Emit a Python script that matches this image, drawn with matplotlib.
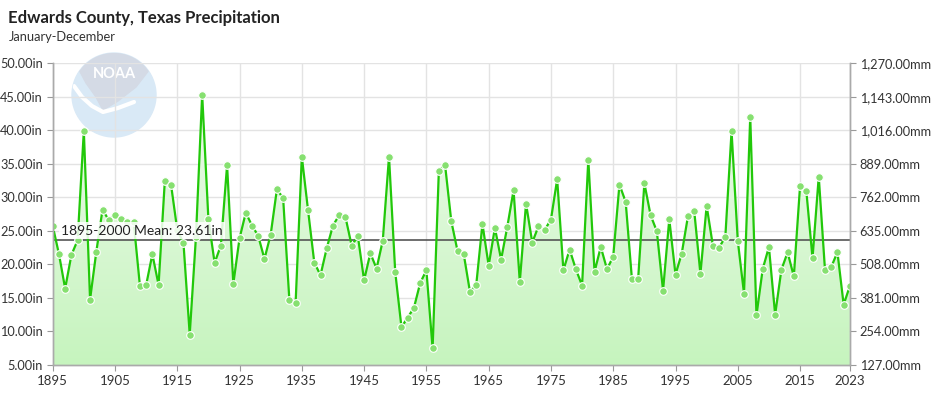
import numpy as np
import matplotlib.pyplot as plt
from matplotlib.patches import Circle, Polygon
from matplotlib.colors import LinearSegmentedColormap

# annual precipitation, inches
years = list(range(1895, 2024))
precip = [
    25.75, 21.57, 16.40, 21.40, 23.60, 39.90, 14.76, 21.87, 28.18, 26.60,
    27.40, 26.80, 26.34, 26.34, 16.85, 16.90, 21.52, 16.95, 32.41, 31.90,
    25.15, 23.16, 9.54, 24.10, 45.33, 26.74, 20.23, 22.81, 34.79, 17.10,
    23.90, 27.70, 25.80, 24.25, 20.82, 24.45, 31.21, 29.87, 14.71, 14.17,
    36.08, 28.08, 20.28, 18.39, 22.42, 25.80, 27.34, 27.09, 22.81, 24.20,
    17.64, 21.67, 19.38, 23.56, 36.08, 18.84, 10.64, 12.08, 13.52, 17.20,
    19.14, 7.46, 33.95, 34.84, 26.44, 22.02, 21.52, 15.90, 16.90, 26.04,
    19.83, 25.45, 20.73, 25.65, 31.06, 17.40, 29.08, 23.26, 25.70, 25.15,
    26.69, 32.70, 19.14, 22.22, 19.28, 16.85, 35.64, 18.89, 22.61, 19.28,
    21.17, 31.91, 29.32, 17.84, 17.80, 32.11, 27.34, 24.95, 16.10, 26.74,
    18.49, 21.62, 27.19, 28.03, 18.59, 28.73, 22.81, 22.51, 24.10, 39.86,
    23.51, 15.66, 42.00, 12.40, 19.30, 22.60, 12.50, 19.20, 21.80, 18.20,
    31.70, 31.00, 20.94, 33.10, 19.20, 19.60, 21.83, 14.00, 16.80,
]
mean_val = 23.61
mean_label = "1895-2000 Mean: 23.61in"
xticks = [1895, 1905, 1915, 1925, 1935, 1945, 1955, 1965, 1975, 1985, 1995, 2005, 2015, 2023]
yticks = [5, 10, 15, 20, 25, 30, 35, 40, 45, 50]

plt.rcParams['font.family'] = ['Lato', 'DejaVu Sans']

W, H = 936, 398
fig = plt.figure(figsize=(W / 100, H / 100), dpi=100)

# NOAA watermark, drawn in pixel units around its centre
cx, cy, r = 114, 95, 42
logo_ax = fig.add_axes([(cx - 45) / W, 1 - (cy + 45) / H, 90 / W, 90 / H])
logo_ax.set_xlim(-45, 45)
logo_ax.set_ylim(-45, 45)
logo_ax.axis('off')
disc = Circle((0, 0), r, color='#d9e9f6', zorder=1)
logo_ax.add_patch(disc)
ang = np.radians(np.linspace(35, 145, 40))
arc = np.column_stack([np.cos(ang) * r, np.sin(ang) * r])
bird = np.vstack([arc, [[-28, 12], [-18, -2], [-11, -15], [4, -6], [22, 8]]])
bp = Polygon(bird, closed=True, color='#d4dae5', zorder=2)
logo_ax.add_patch(bp)
bp.set_clip_path(disc)
sw_x = [-40, -32, -22, -11, 4, 20]
sw_y = [9, -2, -11, -17, -13, -7]
sw, = logo_ax.plot(sw_x, sw_y, color='white', linewidth=3, zorder=3, solid_capstyle='round')
sw.set_clip_path(disc)
logo_ax.text(0, 21, "NOAA", color='white', fontsize=10.5, fontweight='bold',
             ha='center', va='center', zorder=4)

ax = fig.add_axes([0.0563, 0.083, 0.8517, 0.758])
ax.set_xlim(1895, 2023)
ax.set_ylim(5, 50)
ax.patch.set_alpha(0)

# gradient fill under the line
grad = np.linspace(0, 1, 256).reshape(-1, 1)
cmap = LinearSegmentedColormap.from_list('g', ['#c6f4be', '#f2fcf0'])
im = ax.imshow(grad, extent=[1895, 2023, 5, 50], origin='lower', aspect='auto',
               cmap=cmap, zorder=1)
clip = Polygon(np.vstack([[1895, 5], np.column_stack([years, precip]), [2023, 5]]),
               closed=True, transform=ax.transData, facecolor='none', edgecolor='none')
ax.add_patch(clip)
im.set_clip_path(clip)

ax.grid(True, color='#e3e3e3', linewidth=1, zorder=0)
ax.set_axisbelow(True)

ax.plot(years, precip, color='#22c80a', linewidth=1.6, zorder=3,
        marker='o', markersize=5.5, markerfacecolor='#86e070',
        markeredgecolor='white', markeredgewidth=0.8)

ax.axhline(mean_val, color='#555555', linewidth=1.2, zorder=2)
ax.text(1896.3, mean_val + 0.55, mean_label, fontsize=10, color='#222222',
        va='bottom', ha='left', zorder=4,
        bbox=dict(facecolor='white', edgecolor='none', alpha=0.85, pad=1.5))

ax.set_xticks(xticks)
ax.set_xticklabels([str(y) for y in xticks], fontsize=9.5, color='#333333')
ax.set_yticks(yticks)
ax.set_yticklabels([f"{v:.2f}in" for v in yticks], fontsize=9.2, color='#333333')
ax.tick_params(axis='both', length=4, color='#999999', pad=3)

ax2 = ax.twinx()
ax2.set_ylim(5, 50)
ax2.set_yticks(yticks)
ax2.set_yticklabels([f"{v * 25.4:,.2f}mm" for v in yticks], fontsize=9.2, color='#333333')
ax2.tick_params(axis='y', length=4, color='#999999', pad=3)

for a in (ax, ax2):
    a.spines['top'].set_visible(False)
    for s in ('left', 'right', 'bottom'):
        a.spines[s].set_color('#aaaaaa')
        a.spines[s].set_linewidth(1)

fig.text(0.009, 0.955, "Edwards County, Texas Precipitation", fontsize=12,
         fontweight='bold', color='#222222', va='center', ha='left')
fig.text(0.009, 0.908, "January-December", fontsize=9.3, color='#333333',
         va='center', ha='left')

fig.savefig('out.png', dpi=100)
